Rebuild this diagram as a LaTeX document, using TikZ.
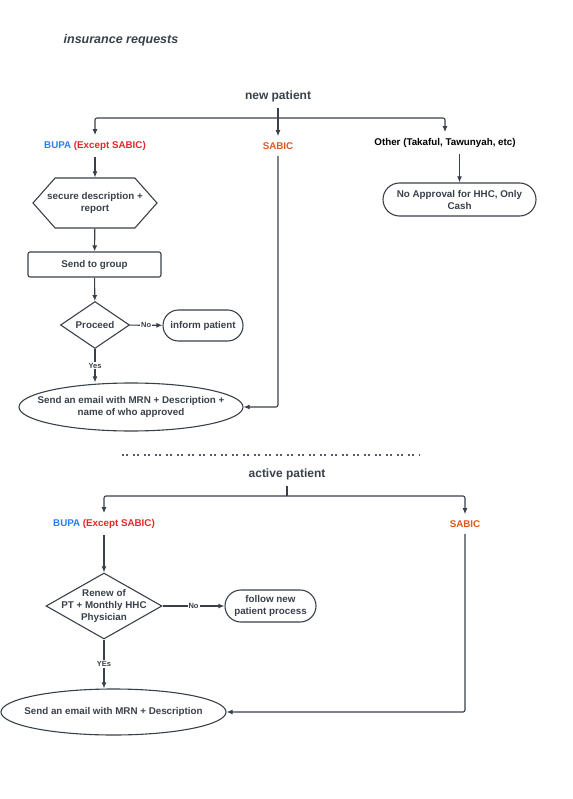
\documentclass[tikz,border=0pt]{standalone}
\usepackage{fontspec}
\setmainfont{Liberation Sans}
\usetikzlibrary{shapes.geometric,shapes.symbols,arrows.meta}

\definecolor{ink}{HTML}{3A404A}
\definecolor{bupablue}{HTML}{2B7DF0}
\definecolor{exred}{HTML}{E3262B}
\definecolor{sabicorange}{HTML}{E0571F}

\begin{document}
\begin{tikzpicture}[x=1pt, y=-1pt, >={Latex[length=6pt,width=5pt]}, color=ink, line width=1.1pt,
        base/.style={font=\bfseries\fontsize{9.8}{12}\selectfont, align=center},
        heading/.style={font=\bfseries\fontsize{12}{14}\selectfont, outer sep=3pt},
        branch/.style={base, outer sep=3pt},
        box/.style={base, draw, rounded corners=2pt, minimum width=133pt, minimum height=25pt, inner sep=0pt},
        pill/.style={base, draw, rounded corners=15.5pt, minimum height=31pt, inner sep=0pt},
        oval/.style={base, draw, ellipse, inner sep=0pt},
        hexa/.style={base, draw, signal, signal to=west and east, signal pointer angle=97,
            minimum width=124pt, minimum height=50pt, inner sep=0pt},
        decision/.style={base, draw, diamond, inner sep=0pt},
        yesno/.style={font=\bfseries\fontsize{7.5}{8}\selectfont, fill=white, inner sep=1pt, midway},
        flow/.style={->, rounded corners=2pt},
        separator/.style={line width=1.6pt, color=ink!85, dash pattern=on 2pt off 1.5pt on 2pt off 5.5pt}]

        \useasboundingbox (0,0) rectangle (572,799);

        \path
        % title
        +(121, 40)  node[heading, font=\bfseries\itshape\fontsize{12.5}{14}\selectfont] (title) {insurance requests}
        % new patient
        +(278, 96)  node[heading] (newp) {new patient}
        +(95, 146)  node[branch] (bupa1) {{\color{bupablue}BUPA} {\color{exred}(Except SABIC)}}
        +(278, 146) node[branch, text=sabicorange] (sabic1) {SABIC}
        +(445, 143) node[branch, text=black] (other) {Other (Takaful, Tawunyah, etc)}
        +(95, 203)  node[hexa, label={[base]center:{secure description +\\report}}] (secure) {}
        +(94.5, 264.5) node[box] (sendgrp) {Send to group}
        +(95, 325)  node[decision, minimum width=69pt, minimum height=47pt] (proceed) {Proceed}
        +(203, 325.5) node[pill, minimum width=80pt] (inform) {inform patient}
        +(131, 407) node[oval, minimum width=224pt, minimum height=48pt,
            label={[base]center:{Send an email with MRN + Description +\\name of who approved}}] (mail1) {}
        +(459.5, 199.5) node[pill, minimum width=153pt, minimum height=33pt, rounded corners=16.5pt] (noappr) {No Approval for HHC, Only\\Cash}
        % active patient
        +(287, 474) node[heading] (activep) {active patient}
        +(104, 524) node[branch] (bupa2) {{\color{bupablue}BUPA} {\color{exred}(Except SABIC)}}
        +(465, 524) node[branch, text=sabicorange] (sabic2) {SABIC}
        +(104, 606) node[decision, minimum width=116pt, minimum height=66pt,
            label={[base]center:{Renew of\\PT + Monthly HHC\\Physician}}] (renew) {}
        +(270.5, 606) node[pill, minimum width=91pt, minimum height=32pt, rounded corners=16pt] (follow) {follow new\\patient process}
        +(113.5, 712) node[oval, minimum width=225pt, minimum height=46pt,
            label={[base]center:{Send an email with MRN + Description}}] (mail2) {};

        \coordinate (np-split) at (278, 118);
        \coordinate (ap-split) at (287, 496);
        \coordinate (sep-l) at (122, 455);
        \coordinate (sep-r) at (420, 455);

        % new patient
        \draw (newp) -- (np-split);
        \draw[flow] (np-split) -| (bupa1);
        \draw[flow] (np-split) -- (sabic1);
        \draw[flow] (np-split) -| (other);
        \draw[->] (bupa1) -- (secure);
        \draw[->] (secure) -- (sendgrp);
        \draw[->] (sendgrp) -- (proceed);
        \draw[->] (proceed) -- node[yesno]{No} (inform);
        \draw[->] (proceed.south) -- node[yesno]{Yes} (proceed.south |- mail1.north);
        \draw[flow] (sabic1) |- (mail1);
        \draw[->] (other.south -| noappr) -- (noappr);

        \draw[separator] (sep-l) -- (sep-r);

        % active patient
        \draw (activep) -- (ap-split);
        \draw[flow] (ap-split) -| (bupa2);
        \draw[flow] (ap-split) -| (sabic2);
        \draw[->] (bupa2) -- (renew);
        \draw[->] (renew) -- node[yesno]{No} (follow);
        \draw[->] (renew.south) -- node[yesno]{YEs} (renew.south |- mail2.north);
        \draw[flow] (sabic2) |- (mail2);
    \end{tikzpicture}
\end{document}
